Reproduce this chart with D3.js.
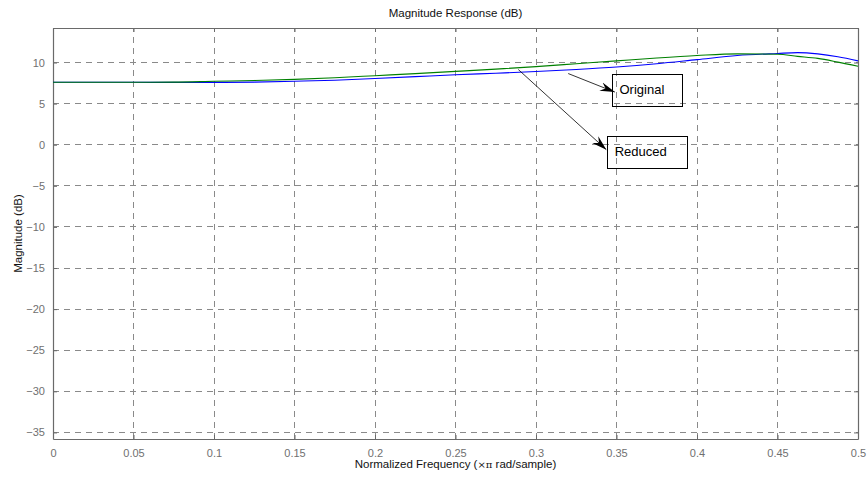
<!DOCTYPE html>
<html>
<head>
<meta charset="utf-8">
<script src="https://cdn.jsdelivr.net/npm/d3@7"></script>
<style>
  body { margin: 0; background: #fff; }
  svg { display: block; font-family: "Liberation Sans", Arial, sans-serif; }
</style>
</head>
<body>
<svg id="chart"></svg>
<script>
/* CONSTANTS AND GLOBALS */
const width = 868,
  height = 482,
  margin = { top: 28, bottom: 43, left: 53, right: 10 };

/// DATA
const freq = [0, 0.025, 0.05, 0.075, 0.1, 0.125, 0.15, 0.175, 0.2, 0.225, 0.25,
  0.275, 0.3, 0.325, 0.35, 0.375, 0.4, 0.425, 0.45, 0.4625, 0.475, 0.4875, 0.5];
// green = original filter
const original = [7.6, 7.6, 7.6, 7.62, 7.72, 7.82, 7.95, 8.15, 8.4, 8.65, 8.92,
  9.2, 9.5, 9.85, 10.2, 10.55, 10.85, 11.05, 11.0, 10.75, 10.5, 10.05, 9.55];
// blue = reduced filter
const reduced = [7.6, 7.6, 7.6, 7.58, 7.58, 7.62, 7.72, 7.85, 8.05, 8.28, 8.52,
  8.7, 8.9, 9.15, 9.45, 9.85, 10.35, 10.85, 11.1, 11.2, 11.05, 10.7, 10.2];

const xTicks = [0, 0.05, 0.1, 0.15, 0.2, 0.25, 0.3, 0.35, 0.4, 0.45, 0.5];
const yTicks = [-35, -30, -25, -20, -15, -10, -5, 0, 5, 10];

// annotation boxes + arrows, in data units
const labels = [
  { text: "Original", box: [0.3475, 0.391, 8.54, 4.69], from: [0.320, 8.66], to: [0.349, 6.4] },
  { text: "Reduced", box: [0.3445, 0.394, 0.96, -2.84], from: [0.289, 9.15], to: [0.3437, -0.6] }
];

const svg = d3.select("#chart")
  .attr("width", width)
  .attr("height", height);

const x = d3.scaleLinear()
  .domain([0, 0.5])
  .range([margin.left, width - margin.right]);

const y = d3.scaleLinear()
  .domain([-35.8, 14.2])
  .range([height - margin.bottom, margin.top]);

const axisColor = "#6a6a6a";
const gridColor = "#8a8a8a";

// grid lines (dashed)
svg.append("g")
  .selectAll("line")
  .data(xTicks)
  .join("line")
    .attr("x1", d => x(d))
    .attr("x2", d => x(d))
    .attr("y1", y.range()[0])
    .attr("y2", y.range()[1])
    .attr("stroke", gridColor)
    .attr("stroke-dasharray", "6,5")
    .attr("shape-rendering", "crispEdges");

svg.append("g")
  .selectAll("line")
  .data(yTicks)
  .join("line")
    .attr("x1", x.range()[0])
    .attr("x2", x.range()[1])
    .attr("y1", d => y(d))
    .attr("y2", d => y(d))
    .attr("stroke", gridColor)
    .attr("stroke-dasharray", "6,5")
    .attr("shape-rendering", "crispEdges");

// axes with inward ticks
const xAxis = svg.append("g")
  .attr("transform", `translate(0,${y.range()[0]})`)
  .call(d3.axisBottom(x).tickValues(xTicks).tickSizeInner(-4).tickSizeOuter(0).tickPadding(10)
    .tickFormat(d3.format("~g")));

const xAxisTop = svg.append("g")
  .attr("transform", `translate(0,${y.range()[1]})`)
  .call(d3.axisTop(x).tickValues(xTicks).tickSizeInner(-4).tickSizeOuter(0).tickFormat(""));

const yAxis = svg.append("g")
  .attr("transform", `translate(${x.range()[0]},0)`)
  .call(d3.axisLeft(y).tickValues(yTicks).tickSizeInner(-4).tickSizeOuter(0).tickPadding(8));

const yAxisRight = svg.append("g")
  .attr("transform", `translate(${x.range()[1]},0)`)
  .call(d3.axisRight(y).tickValues(yTicks).tickSizeInner(-4).tickSizeOuter(0).tickFormat(""));

[xAxis, xAxisTop, yAxis, yAxisRight].forEach(g => {
  g.select(".domain").attr("stroke", axisColor).attr("stroke-width", 1.2);
  g.selectAll(".tick line").attr("stroke", axisColor);
  g.selectAll("text")
    .attr("fill", "#707070")
    .attr("font-size", 11)
    .attr("font-family", "Liberation Sans, Arial, sans-serif");
});

// the two response curves
const line = (vals) => d3.line()
  .x((d, i) => x(freq[i]))
  .y(d => y(d))
  .curve(d3.curveMonotoneX)(vals);

svg.append("path")
  .attr("d", line(reduced))
  .attr("fill", "none")
  .attr("stroke", "#0000ff")
  .attr("stroke-width", 1.1);

svg.append("path")
  .attr("d", line(original))
  .attr("fill", "none")
  .attr("stroke", "#008000")
  .attr("stroke-width", 1.1);

// arrow marker (swept-back head)
svg.append("defs").append("marker")
  .attr("id", "arrowhead")
  .attr("viewBox", "0 0 15 10")
  .attr("refX", 15)
  .attr("refY", 5)
  .attr("markerWidth", 15)
  .attr("markerHeight", 10)
  .attr("markerUnits", "userSpaceOnUse")
  .attr("orient", "auto")
  .append("path")
    .attr("d", "M0,0.5 L15,5 L0,9.5 L5,5 Z")
    .attr("fill", "#000");

// annotation text boxes (transparent, like matlab textboxes)
const ann = svg.append("g");
labels.forEach(l => {
  ann.append("line")
    .attr("x1", x(l.from[0]))
    .attr("y1", y(l.from[1]))
    .attr("x2", x(l.to[0]))
    .attr("y2", y(l.to[1]))
    .attr("stroke", "#000")
    .attr("stroke-width", 0.8)
    .attr("marker-end", "url(#arrowhead)");

  ann.append("rect")
    .attr("x", x(l.box[0]))
    .attr("y", y(l.box[2]))
    .attr("width", x(l.box[1]) - x(l.box[0]))
    .attr("height", y(l.box[3]) - y(l.box[2]))
    .attr("fill", "none")
    .attr("stroke", "#000")
    .attr("stroke-width", 1)
    .attr("shape-rendering", "crispEdges");

  ann.append("text")
    .attr("x", x(l.box[0]) + 7)
    .attr("y", (y(l.box[2]) + y(l.box[3])) / 2 + 4)
    .attr("font-size", 13)
    .attr("fill", "#000")
    .text(l.text);
});

// title and axis labels
svg.append("text")
  .attr("x", (x.range()[0] + x.range()[1]) / 2)
  .attr("y", 17)
  .attr("text-anchor", "middle")
  .attr("font-size", 11.5)
  .attr("fill", "#111")
  .text("Magnitude Response (dB)");

const xlab = svg.append("text")
  .attr("x", (x.range()[0] + x.range()[1]) / 2)
  .attr("y", 468)
  .attr("text-anchor", "middle")
  .attr("font-size", 11.5)
  .attr("fill", "#111");
xlab.append("tspan").text("Normalized Frequency (");
xlab.append("tspan").attr("font-size", 10).attr("font-family", "DejaVu Serif, serif").text("×π");
xlab.append("tspan").text(" rad/sample)");

svg.append("text")
  .attr("transform", `translate(22,${(y.range()[0] + y.range()[1]) / 2}) rotate(-90)`)
  .attr("text-anchor", "middle")
  .attr("font-size", 11.5)
  .attr("fill", "#111")
  .text("Magnitude (dB)");
</script>
</body>
</html>
